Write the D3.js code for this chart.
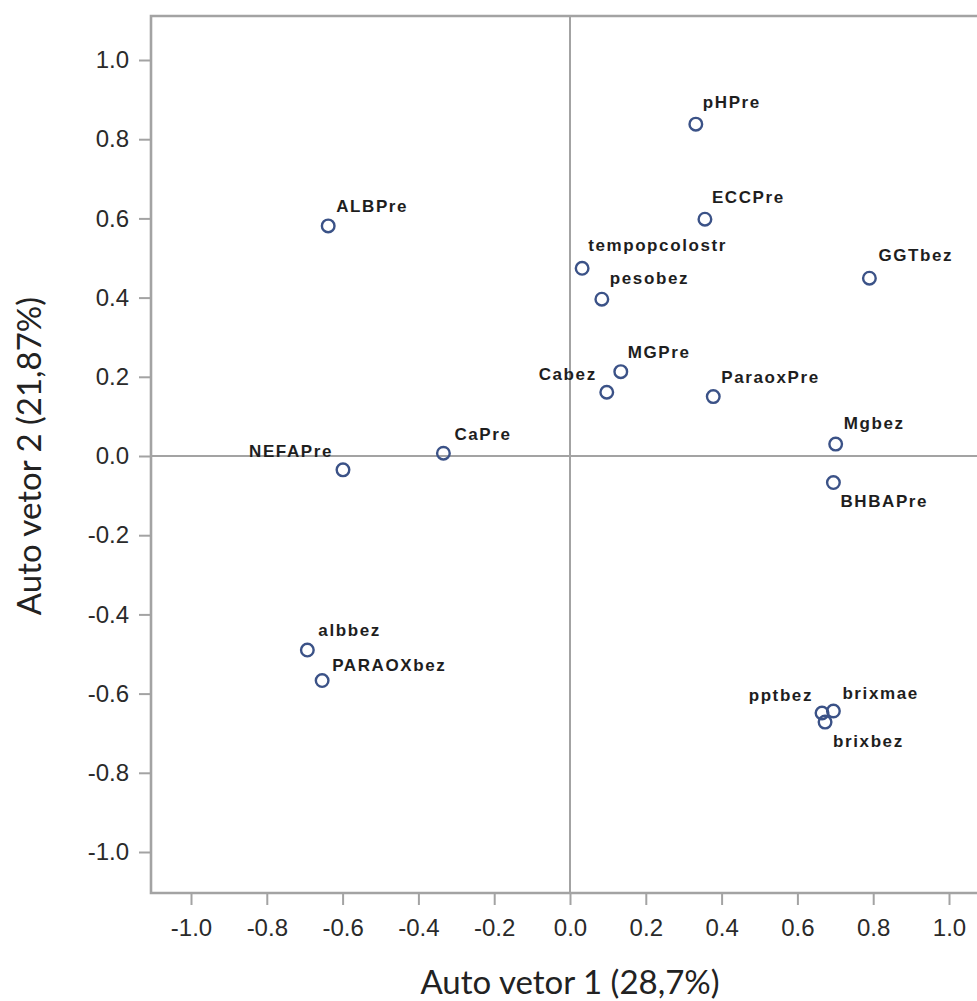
<!DOCTYPE html>
<html>
<head>
<meta charset="utf-8">
<script src="https://cdn.jsdelivr.net/npm/d3@7"></script>
<style>
  html, body { margin: 0; padding: 0; background: #fff; }
  svg { display: block; }
</style>
</head>
<body>
<svg id="chart"></svg>
<script>
// ── Data: loadings on the first two eigenvectors ─────────────────────────────
const varNames = ['pHPre', 'ECCPre', 'ALBPre', 'tempopcolostr', 'pesobez', 'GGTbez',
                  'MGPre', 'Cabez', 'ParaoxPre', 'Mgbez', 'BHBAPre', 'CaPre',
                  'NEFAPre', 'albbez', 'PARAOXbez', 'pptbez', 'brixmae', 'brixbez'];
const vetor1 = [0.332, 0.356, -0.638, 0.032, 0.084, 0.790,
                0.134, 0.097, 0.378, 0.701, 0.695, -0.334,
                -0.599, -0.693, -0.654, 0.665, 0.695, 0.673];
const vetor2 = [0.838, 0.598, 0.581, 0.474, 0.396, 0.449,
                0.213, 0.161, 0.150, 0.030, -0.067, 0.007,
                -0.035, -0.490, -0.567, -0.649, -0.644, -0.672];

const xTicks = [-1.0, -0.8, -0.6, -0.4, -0.2, 0.0, 0.2, 0.4, 0.6, 0.8, 1.0];
const yTicks = [-1.0, -0.8, -0.6, -0.4, -0.2, 0.0, 0.2, 0.4, 0.6, 0.8, 1.0];

const xTitle = 'Auto vetor 1 (28,7%)';
const yTitle = 'Auto vetor 2 (21,87%)';

// Label placement relative to the marker: [dx, dy (baseline), anchor]
const LABEL_POS = {
  pHPre:         [7,  -16, 'start'],
  ECCPre:        [7,  -16, 'start'],
  ALBPre:        [8,  -14, 'start'],
  tempopcolostr: [6,  -17, 'start'],
  pesobez:       [8,  -15, 'start'],
  GGTbez:        [9,  -17, 'start'],
  MGPre:         [7,  -14, 'start'],
  Cabez:         [-10, -12, 'end'],
  ParaoxPre:     [8,  -14, 'start'],
  Mgbez:         [8,  -15, 'start'],
  BHBAPre:       [7,   24, 'start'],
  CaPre:         [11, -13, 'start'],
  NEFAPre:       [-10, -13, 'end'],
  albbez:        [11, -14, 'start'],
  PARAOXbez:     [10, -10, 'start'],
  pptbez:        [-9, -12, 'end'],
  brixmae:       [9,  -12, 'start'],
  brixbez:       [8,   25, 'start'],
};

// ── Layout ───────────────────────────────────────────────────────────────────
const W = 977, H = 1001;
const FRAME = { left: 151, top: 16, bottom: 893, right: 990 };
const AXIS_GREY = '#a3a3a3';
const MARKER = '#3b5287';

const svg = d3.select('#chart')
  .attr('width',  W)
  .attr('height', H)
  .attr('viewBox', `0 0 ${W} ${H}`);

const x = d3.scaleLinear().domain([-1, 1]).range([191, 949]);
const y = d3.scaleLinear().domain([-1, 1]).range([852, 60]);

const fmt = v => (Math.abs(v) < 1e-9 ? 0 : v).toFixed(1);

// ── Reference lines at zero ──────────────────────────────────────────────────
svg.append('line')
  .attr('x1', x(0)).attr('x2', x(0))
  .attr('y1', FRAME.top).attr('y2', FRAME.bottom)
  .attr('stroke', AXIS_GREY)
  .attr('stroke-width', 2);

svg.append('line')
  .attr('x1', FRAME.left).attr('x2', FRAME.right)
  .attr('y1', y(0)).attr('y2', y(0))
  .attr('stroke', AXIS_GREY)
  .attr('stroke-width', 2);

// ── Frame (right side runs off the picture) ──────────────────────────────────
svg.append('path')
  .attr('d', `M${FRAME.right},${FRAME.top}H${FRAME.left}V${FRAME.bottom}H${FRAME.right}`)
  .attr('fill', 'none')
  .attr('stroke', AXIS_GREY)
  .attr('stroke-width', 2.6);

// ── Axes ─────────────────────────────────────────────────────────────────────
const xAxis = svg.append('g')
  .attr('transform', `translate(0,${FRAME.bottom})`)
  .call(d3.axisBottom(x).tickValues(xTicks).tickFormat(fmt).tickSize(12).tickPadding(14));

const yAxis = svg.append('g')
  .attr('transform', `translate(${FRAME.left},0)`)
  .call(d3.axisLeft(y).tickValues(yTicks).tickFormat(fmt).tickSize(12).tickPadding(10));

[xAxis, yAxis].forEach(g => {
  g.select('.domain').remove();
  g.selectAll('.tick line')
    .attr('stroke', AXIS_GREY)
    .attr('stroke-width', 2);
  g.selectAll('.tick text')
    .attr('fill', '#2a2a2a')
    .attr('font-family', '"Liberation Sans", Arial, sans-serif')
    .attr('font-size', '24px');
});

// ── Axis titles ──────────────────────────────────────────────────────────────
svg.append('text')
  .attr('x', x(0))
  .attr('y', 994)
  .attr('text-anchor', 'middle')
  .attr('font-family', 'Lato, "Open Sans", sans-serif')
  .attr('font-size', '33px')
  .attr('fill', '#222')
  .text(xTitle);

svg.append('text')
  .attr('transform', `translate(41,${y(0)}) rotate(-90)`)
  .attr('text-anchor', 'middle')
  .attr('font-family', 'Lato, "Open Sans", sans-serif')
  .attr('font-size', '33px')
  .attr('fill', '#222')
  .text(yTitle);

// ── Points + labels ──────────────────────────────────────────────────────────
const points = varNames.map((name, i) => ({ name, v1: vetor1[i], v2: vetor2[i] }));

svg.append('g')
  .attr('class', 'markers')
  .selectAll('circle')
  .data(points)
  .join('circle')
    .attr('cx', d => x(d.v1))
    .attr('cy', d => y(d.v2))
    .attr('r', 6.3)
    .attr('fill', 'none')
    .attr('stroke', MARKER)
    .attr('stroke-width', 2.4);

svg.append('g')
  .attr('class', 'labels')
  .selectAll('text')
  .data(points)
  .join('text')
    .attr('x', d => x(d.v1) + LABEL_POS[d.name][0])
    .attr('y', d => y(d.v2) + LABEL_POS[d.name][1])
    .attr('text-anchor', d => LABEL_POS[d.name][2])
    .attr('font-family', '"Liberation Sans", Arial, sans-serif')
    .attr('font-weight', 'bold')
    .attr('font-size', '17px')
    .attr('letter-spacing', '1.6px')
    .attr('fill', '#1e1e1e')
    .text(d => d.name);
</script>
</body>
</html>
